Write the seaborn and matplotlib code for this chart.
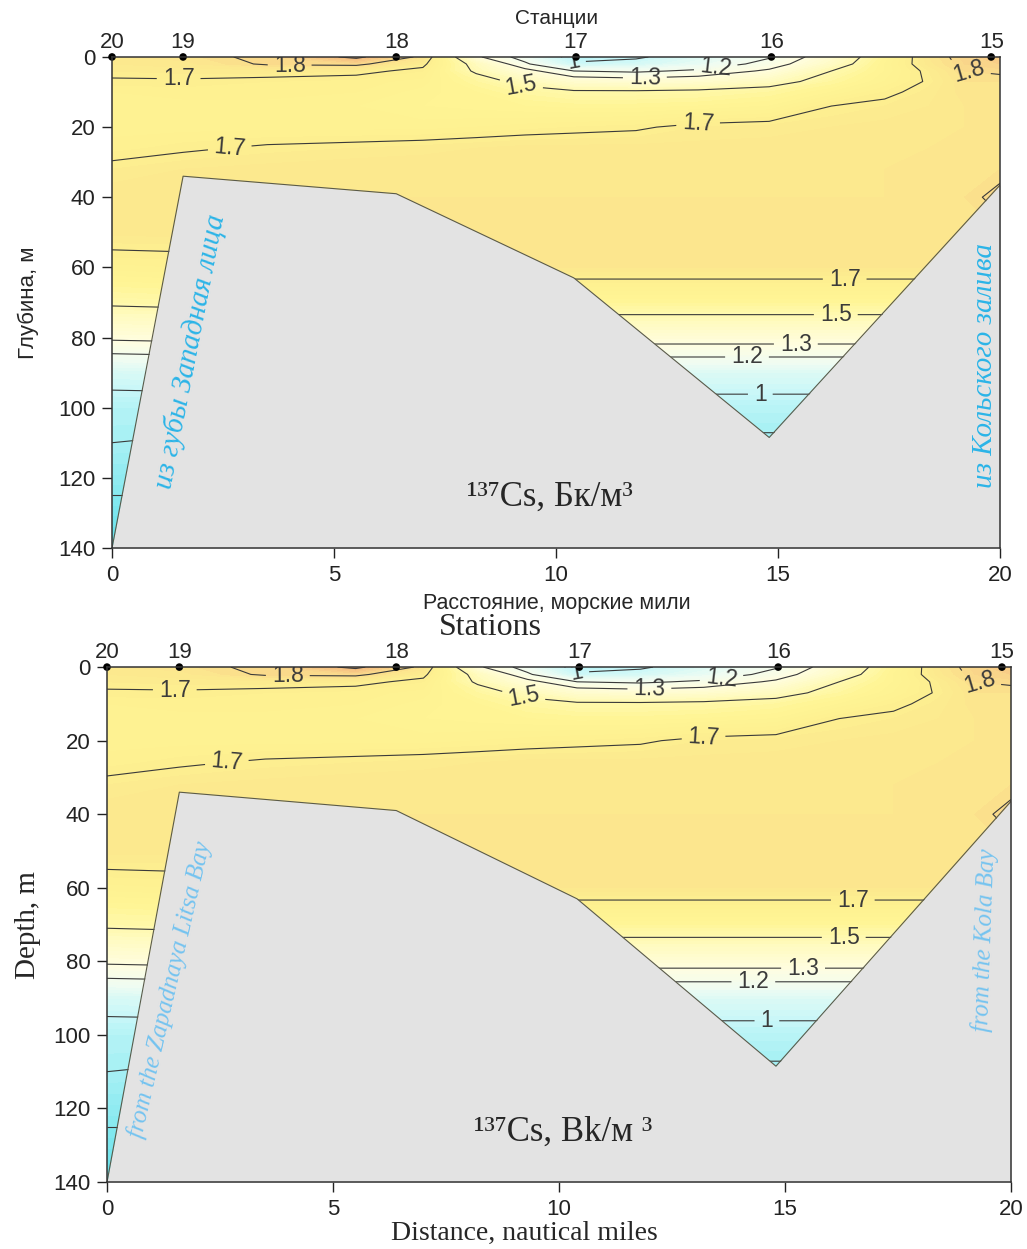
import numpy as np
import pandas as pd
import seaborn as sns
import matplotlib.pyplot as plt
from matplotlib.colors import LinearSegmentedColormap

# distance along the section (nautical miles) and depth (m) of the value grid
dist = [0, 1.6, 3.5, 5.5, 7, 8.2, 9.3, 10.4, 11.8, 13.2, 14.8, 16.2, 17.4, 18.4, 19.2, 20]
depth = [0, 2, 4, 7, 10, 14, 20, 26, 32, 40, 50, 60, 70, 80, 90, 100, 110, 125, 140]

# 137Cs, Bq/m3, one row per depth (read from the section)
cs137 = [
    [1.76, 1.77, 1.82, 1.92, 1.78, 1.32, 1.15, 0.95, 0.98, 1.08, 1.19, 1.38, 1.60, 1.76, 1.83, 1.86],
    [1.74, 1.75, 1.81, 1.82, 1.72, 1.45, 1.22, 1.02, 1.05, 1.12, 1.24, 1.42, 1.62, 1.75, 1.82, 1.84],
    [1.72, 1.73, 1.73, 1.72, 1.68, 1.48, 1.34, 1.20, 1.18, 1.22, 1.32, 1.50, 1.62, 1.72, 1.80, 1.81],
    [1.69, 1.69, 1.68, 1.67, 1.65, 1.56, 1.46, 1.38, 1.36, 1.38, 1.44, 1.56, 1.64, 1.71, 1.78, 1.78],
    [1.66, 1.67, 1.67, 1.66, 1.63, 1.60, 1.55, 1.52, 1.52, 1.53, 1.56, 1.62, 1.68, 1.73, 1.77, 1.77],
    [1.64, 1.65, 1.65, 1.64, 1.62, 1.61, 1.60, 1.59, 1.59, 1.60, 1.62, 1.70, 1.72, 1.74, 1.76, 1.77],
    [1.65, 1.65, 1.65, 1.65, 1.65, 1.66, 1.67, 1.68, 1.69, 1.72, 1.73, 1.74, 1.75, 1.76, 1.76, 1.77],
    [1.67, 1.69, 1.71, 1.72, 1.73, 1.74, 1.75, 1.75, 1.75, 1.75, 1.75, 1.75, 1.76, 1.76, 1.77, 1.77],
    [1.72, 1.74, 1.75, 1.76, 1.76, 1.76, 1.76, 1.76, 1.76, 1.76, 1.76, 1.76, 1.76, 1.77, 1.77, 1.78],
    [1.76, 1.76, 1.76, 1.76, 1.76, 1.76, 1.76, 1.76, 1.76, 1.76, 1.76, 1.76, 1.76, 1.77, 1.78, 1.82],
    [1.75, 1.75, 1.76, 1.77, 1.77, 1.77, 1.77, 1.77, 1.77, 1.77, 1.77, 1.77, 1.77, 1.77, 1.78, 1.78],
    [1.65, 1.66, 1.70, 1.76, 1.76, 1.76, 1.76, 1.76, 1.76, 1.76, 1.76, 1.76, 1.76, 1.76, 1.76, 1.76],
    [1.52, 1.53, 1.55, 1.58, 1.58, 1.58, 1.58, 1.58, 1.58, 1.58, 1.58, 1.58, 1.58, 1.58, 1.58, 1.58],
    [1.32, 1.33, 1.34, 1.35, 1.35, 1.35, 1.35, 1.35, 1.35, 1.35, 1.35, 1.35, 1.35, 1.35, 1.35, 1.35],
    [1.06, 1.07, 1.07, 1.08, 1.08, 1.08, 1.08, 1.08, 1.08, 1.08, 1.08, 1.08, 1.08, 1.08, 1.08, 1.08],
    [0.94, 0.94, 0.95, 0.95, 0.95, 0.95, 0.95, 0.95, 0.95, 0.95, 0.95, 0.95, 0.95, 0.95, 0.95, 0.95],
    [0.90, 0.89, 0.88, 0.88, 0.88, 0.88, 0.88, 0.88, 0.88, 0.88, 0.88, 0.88, 0.88, 0.88, 0.88, 0.88],
    [0.80, 0.80, 0.80, 0.80, 0.80, 0.80, 0.80, 0.80, 0.80, 0.80, 0.80, 0.80, 0.80, 0.80, 0.80, 0.80],
    [0.70, 0.70, 0.70, 0.70, 0.70, 0.70, 0.70, 0.70, 0.70, 0.70, 0.70, 0.70, 0.70, 0.70, 0.70, 0.70],
]

# bottom profile
bottom_dist = [0, 1.6, 6.4, 10.4, 14.8, 20]
bottom_depth = [140, 34, 39, 63, 108.5, 36.5]

# stations
station_dist = [0, 1.6, 6.4, 10.45, 14.85, 19.8]
station_names = ['20', '19', '18', '17', '16', '15']

line_levels = [0.8, 0.9, 1.0, 1.2, 1.3, 1.5, 1.7, 1.8, 1.9]

# where the isoline labels sit
label_pos = [(4.0, 2.3), (1.5, 5.9), (2.65, 25.8), (10.4, 1.2), (12.0, 6.0),
             (13.6, 3.5), (9.2, 8.8), (13.2, 19.3), (19.3, 4.0), (16.5, 63.5),
             (16.3, 73.5), (15.4, 82.5), (14.3, 85.0), (14.6, 95.0)]

sns.set_theme(style='ticks')
plt.rcParams['font.family'] = ['Liberation Sans', 'DejaVu Sans']

cmap = LinearSegmentedColormap.from_list('cs', [
    (0.00, '#3fd8e4'), (0.143, '#86e9f0'), (0.286, '#c8f7f8'), (0.393, '#effcf2'),
    (0.50, '#fffde0'), (0.607, '#fffbc0'), (0.714, '#fff594'), (0.786, '#fdef90'),
    (0.829, '#fce88e'), (0.871, '#fad88b'), (0.929, '#f5bd80'), (1.00, '#f0a878')])

df = pd.DataFrame(cs137, index=depth, columns=dist)
X, Y = np.meshgrid(df.columns.values, df.index.values)
Z = df.values

fig = plt.figure(figsize=(10.27, 12.49), dpi=100)
ax1 = fig.add_axes([0.1091, 0.5613, 0.8647, 0.3931])
ax2 = fig.add_axes([0.1042, 0.0536, 0.8802, 0.4123])

sans = ['Liberation Sans', 'DejaVu Sans']
serif = ['Liberation Serif', 'DejaVu Serif']


def draw_section(ax, txt):
    ax.contourf(X, Y, Z, levels=np.arange(0.6, 2.01, 0.02), cmap=cmap, zorder=1)
    cs = ax.contour(X, Y, Z, levels=line_levels, colors='#3a3a3a', linewidths=0.8, zorder=2)
    ax.fill_between(bottom_dist, bottom_depth, 140, color='#e3e3e3', lw=0, zorder=2.5)
    ax.plot(bottom_dist, bottom_depth, color='#5a5a4a', lw=0.8, zorder=2.6)
    labels = ax.clabel(cs, fmt='%g', fontsize=16.5, manual=label_pos, inline=True, inline_spacing=6)
    for t in labels:
        t.set_zorder(3)
    sns.scatterplot(x=station_dist, y=[0] * len(station_dist), ax=ax, color='black', s=30,
                    zorder=4, clip_on=False, edgecolor='none', legend=False)

    ax.set_xlim(0, 20)
    ax.set_ylim(140, 0)
    ax.set_xticks([0, 5, 10, 15, 20])
    ax.set_yticks(range(0, 141, 20))
    ax.tick_params(direction='out', length=7, width=1, labelsize=16, colors='#222222', pad=5)
    for s in ax.spines.values():
        s.set_color('#333333')
        s.set_linewidth(1.1)
        s.set_zorder(5)

    top = ax.secondary_xaxis('top')
    top.set_xticks(station_dist, labels=station_names)
    top.tick_params(length=0, pad=3, labelsize=16)
    top.spines['top'].set_visible(False)

    ax.text(*txt['st_xy'], txt['stations'], transform=ax.transAxes, fontsize=txt['st_size'],
            family=txt['family'], ha='center', va='center')
    ax.text(*txt['xl_xy'], txt['xlabel'], transform=ax.transAxes, fontsize=txt['xl_size'],
            family=txt['family'], ha='center', va='center')
    ax.set_ylabel(txt['ylabel'], fontsize=txt['yl_size'], family=txt['family'], labelpad=txt['yl_pad'])

    ax.text(*txt['left_xy'], txt['left'], rotation=txt['left_rot'], color=txt['note_color'],
            fontsize=txt['note_size'], style='italic', family=serif, ha='center', va='center',
            rotation_mode='anchor', zorder=6)
    ax.text(*txt['right_xy'], txt['right'], rotation=txt['right_rot'], color=txt['note_color'],
            fontsize=txt['note_size'], style='italic', family=serif, ha='center', va='center',
            rotation_mode='anchor', zorder=6)
    ax.text(*txt['unit_xy'], txt['unit'], fontsize=25, family=serif, ha='center', va='center', zorder=6)


draw_section(ax1, dict(
    family=sans,
    stations='Станции', st_size=15, st_xy=(0.501, 1.079),
    xlabel='Расстояние, морские мили', xl_size=15.5, xl_xy=(0.501, -0.114),
    ylabel='Глубина, м', yl_size=16, yl_pad=14,
    left='из губы Западная лица', left_xy=(1.75, 84), left_rot=79,
    right='из Кольского залива', right_xy=(19.65, 88), right_rot=90,
    note_color='#2bb4e8', note_size=21,
    unit='¹³⁷Cs, Бк/м³', unit_xy=(9.86, 125.5)))

draw_section(ax2, dict(
    family=serif,
    stations='Stations', st_size=23, st_xy=(0.424, 1.076),
    xlabel='Distance, nautical miles', xl_size=20, xl_xy=(0.462, -0.1),
    ylabel='Depth, m', yl_size=21, yl_pad=9,
    left='from the Zapadnaya Litsa Bay', left_xy=(1.39, 87.8), left_rot=77,
    right='from the Kola Bay', right_xy=(19.42, 74.2), right_rot=88,
    note_color='#74c3f0', note_size=18,
    unit='¹³⁷Cs, Bk/м ³', unit_xy=(10.09, 126.4)))

fig.savefig('out.png', dpi=100)
